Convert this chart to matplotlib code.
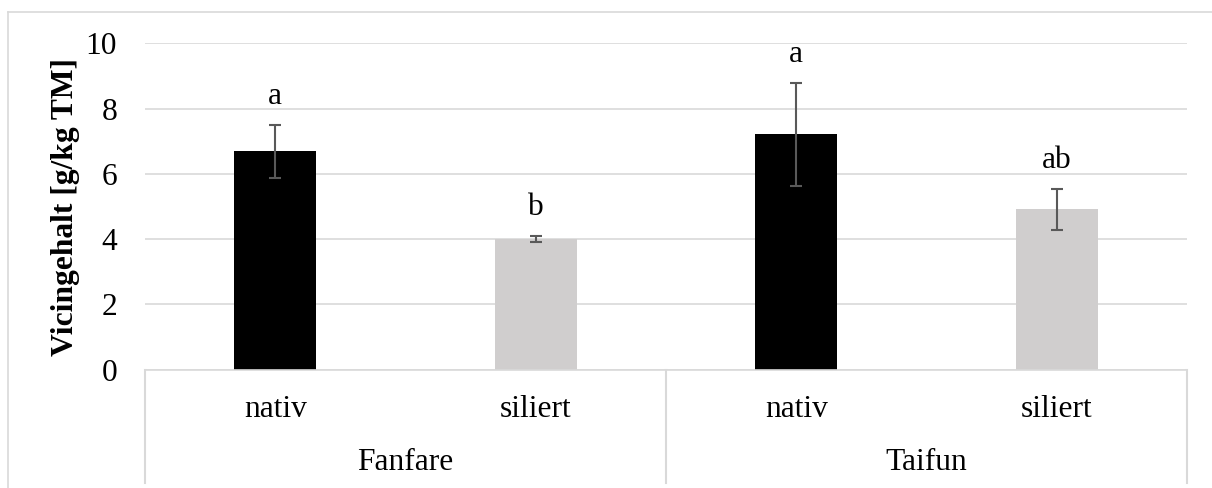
import matplotlib
matplotlib.use("Agg")
import matplotlib.pyplot as plt
from matplotlib.lines import Line2D
import numpy as np

groups = ["Fanfare", "Taifun"]
treatments = ["nativ", "siliert", "nativ", "siliert"]
means = [6.69, 4.00, 7.21, 4.91]
errors = [0.82, 0.10, 1.57, 0.63]
letters = ["a", "b", "a", "ab"]
bar_colors = ["#000000", "#d0cece", "#000000", "#d0cece"]

plt.rcParams["font.family"] = ["Liberation Serif", "DejaVu Serif"]
fs = 22.7
grid_col = "#d9d9d9"

fig = plt.figure(figsize=(12.12, 4.88), dpi=100)
ax = fig.add_axes([145 / 1212, 1 - 369.7 / 488, (1187 - 145) / 1212, (369.7 - 43.3) / 488])

x = np.arange(len(means))
ax.bar(x, means, width=0.315, color=bar_colors, zorder=2)
ax.errorbar(x, means, yerr=errors, fmt="none", ecolor="#595959", elinewidth=1.5,
            capsize=4.3, capthick=1.5, zorder=3)
for xi, m, e, lab in zip(x, means, errors, letters):
    ax.annotate(lab, (xi, m + e), xytext=(0, 15), textcoords="offset points",
                ha="center", va="baseline", fontsize=fs)

ax.set_xlim(-0.5, len(means) - 0.5)
ax.set_ylim(0, 10)
ax.set_yticks([0, 2, 4, 6, 8, 10])
ax.tick_params(axis="y", length=0, pad=20, labelsize=fs)
ax.set_xticks([])
ax.yaxis.grid(True, color=grid_col, linewidth=1.2, zorder=0)
ax.set_axisbelow(True)
for side in ["top", "right", "left"]:
    ax.spines[side].set_visible(False)
ax.spines["bottom"].set_color(grid_col)
ax.spines["bottom"].set_linewidth(1.2)

ax.set_ylabel("Vicingehalt [g/kg TM]", fontsize=fs, fontweight="bold")
ax.yaxis.set_label_coords(-(145 - 80) / (1187 - 145), 0.5)

# two-level category axis
trans = ax.get_xaxis_transform()
for xi, t in zip(x, treatments):
    ax.text(xi, -40 / 326.4, t, transform=trans, ha="center", va="center", fontsize=fs)
for gi, g in enumerate(groups):
    ax.text(2 * gi + 0.5, -93 / 326.4, g, transform=trans, ha="center", va="center", fontsize=fs)
for xb in [-0.5, 1.5, 3.5]:
    ax.add_line(Line2D([xb, xb], [0, -113 / 326.4], transform=trans, color=grid_col,
                       linewidth=1.5, clip_on=False))

# outer chart border
fig.add_artist(Line2D([7.5 / 1212, 7.5 / 1212], [0, 1 - 12 / 488], color=grid_col, linewidth=1.2))
fig.add_artist(Line2D([7.5 / 1212, 1], [1 - 12 / 488, 1 - 12 / 488], color=grid_col, linewidth=1.2))

fig.savefig("out.png", dpi=100)
